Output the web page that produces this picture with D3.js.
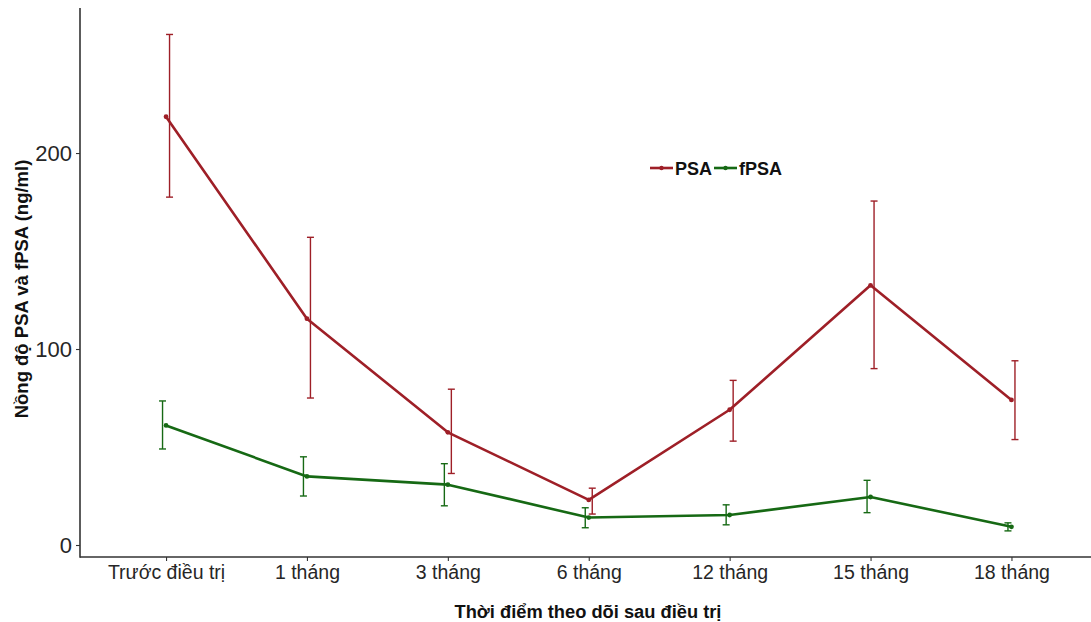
<!DOCTYPE html>
<html>
<head>
<meta charset="utf-8">
<script src="https://cdn.jsdelivr.net/npm/d3@7"></script>
<style>
  html, body { margin: 0; padding: 0; background: #fff; }
  svg { display: block; font-family: "Liberation Sans", Arial, sans-serif; }
</style>
</head>
<body>
<svg id="chart" width="1091" height="622"></svg>
<script>
// Follow-up time points
const categories = ["Trước điều trị", "1 tháng", "3 tháng", "6 tháng", "12 tháng", "15 tháng", "18 tháng"];

// PSA: mean with lower/upper error bounds (ng/ml)
const psaMean  = [218.5, 115.5, 57.5, 23.0, 69.0, 132.5, 74.0];
const psaLow   = [177.5, 75.0, 36.5, 15.8, 53.0, 90.0, 53.8];
const psaHigh  = [260.5, 157.0, 79.5, 29.0, 84.0, 175.5, 94.0];

// fPSA: mean with lower/upper error bounds (ng/ml)
const fpsaMean = [61.0, 35.0, 30.8, 14.0, 15.3, 24.5, 9.3];
const fpsaLow  = [49.0, 25.0, 20.0, 8.8, 10.3, 16.5, 7.2];
const fpsaHigh = [73.5, 45.0, 41.5, 19.0, 20.5, 33.0, 11.3];

const yTicks = [0, 100, 200];
const seriesNames = ["PSA", "fPSA"];
const seriesColors = ["#9E1F27", "#166914"];

const svg = d3.select("#chart");

const x = d3.scalePoint().domain(categories).range([81.5, 1096]).padding(0.6);
const y = d3.scaleLinear().domain([-6.12, 274]).range([557, 8]);

const series = [
  { name: seriesNames[0], color: seriesColors[0], mean: psaMean, low: psaLow, high: psaHigh, dodge: 3.5 },
  { name: seriesNames[1], color: seriesColors[1], mean: fpsaMean, low: fpsaLow, high: fpsaHigh, dodge: -3.5 }
];

// Axes
const xAxis = svg.append("g").attr("transform", "translate(0,557)")
  .call(d3.axisBottom(x).tickSize(4).tickPadding(4));
xAxis.select(".domain").remove();
xAxis.append("line").attr("x1", 80).attr("x2", 1091).attr("y1", 0).attr("y2", 0)
  .attr("stroke", "#333").attr("stroke-width", 1.6);
xAxis.selectAll(".tick line").attr("stroke", "#333").attr("stroke-width", 1.1);
xAxis.selectAll(".tick text").attr("fill", "#262626").style("font-size", "19.5px")
  .style("font-family", "'Liberation Sans', Arial, sans-serif");

const yAxis = svg.append("g").attr("transform", "translate(80,0)")
  .call(d3.axisLeft(y).tickValues(yTicks).tickSize(4).tickPadding(4));
yAxis.select(".domain").remove();
yAxis.append("line").attr("x1", 0).attr("x2", 0).attr("y1", 8).attr("y2", 557.8)
  .attr("stroke", "#333").attr("stroke-width", 1.6);
yAxis.selectAll(".tick line").attr("stroke", "#333").attr("stroke-width", 1.1);
yAxis.selectAll(".tick text").attr("fill", "#262626").style("font-size", "22px")
  .style("font-family", "'Liberation Sans', Arial, sans-serif");

// Axis titles
svg.append("text").attr("x", 588).attr("y", 618).attr("text-anchor", "middle")
  .style("font-size", "18.3px").attr("font-weight", "bold").attr("fill", "#111")
  .text("Thời điểm theo dõi sau điều trị");
svg.append("text").attr("transform", "translate(28,289) rotate(-90)").attr("text-anchor", "middle")
  .style("font-size", "18.5px").attr("font-weight", "bold").attr("fill", "#111")
  .text("Nồng độ PSA và fPSA (ng/ml)");

// Series: error bars, lines, points
const capHalf = 3.5;
series.forEach(s => {
  const g = svg.append("g");
  const idx = d3.range(categories.length);
  const bars = g.selectAll(".eb").data(idx).join("g").attr("stroke", s.color).attr("stroke-width", 1.4);
  bars.append("line")
    .attr("x1", i => x(categories[i]) + s.dodge).attr("x2", i => x(categories[i]) + s.dodge)
    .attr("y1", i => y(s.low[i])).attr("y2", i => y(s.high[i]));
  bars.append("line")
    .attr("x1", i => x(categories[i]) + s.dodge - capHalf).attr("x2", i => x(categories[i]) + s.dodge + capHalf)
    .attr("y1", i => y(s.low[i])).attr("y2", i => y(s.low[i]));
  bars.append("line")
    .attr("x1", i => x(categories[i]) + s.dodge - capHalf).attr("x2", i => x(categories[i]) + s.dodge + capHalf)
    .attr("y1", i => y(s.high[i])).attr("y2", i => y(s.high[i]));

  const line = d3.line().x(i => x(categories[i])).y(i => y(s.mean[i]));
  g.append("path").datum(idx).attr("d", line).attr("fill", "none")
    .attr("stroke", s.color).attr("stroke-width", 2.6).attr("stroke-linejoin", "round");
  g.selectAll("circle").data(idx).join("circle")
    .attr("cx", i => x(categories[i])).attr("cy", i => y(s.mean[i])).attr("r", 2.4)
    .attr("fill", s.color);
});

// Legend
const legend = svg.append("g").attr("transform", "translate(650,168)");
let lx = 0;
series.forEach(s => {
  const item = legend.append("g").attr("transform", `translate(${lx},0)`);
  item.append("line").attr("x1", 0).attr("x2", 23).attr("y1", 0).attr("y2", 0)
    .attr("stroke", s.color).attr("stroke-width", 2.6);
  item.append("circle").attr("cx", 11.5).attr("cy", 0).attr("r", 2.2).attr("fill", s.color);
  const t = item.append("text").attr("x", 25).attr("y", 6.5).style("font-size", "18px")
    .attr("font-weight", "bold").attr("fill", "#111").text(s.name);
  lx += 25 + t.node().getComputedTextLength() + 2;
});
</script>
</body>
</html>
